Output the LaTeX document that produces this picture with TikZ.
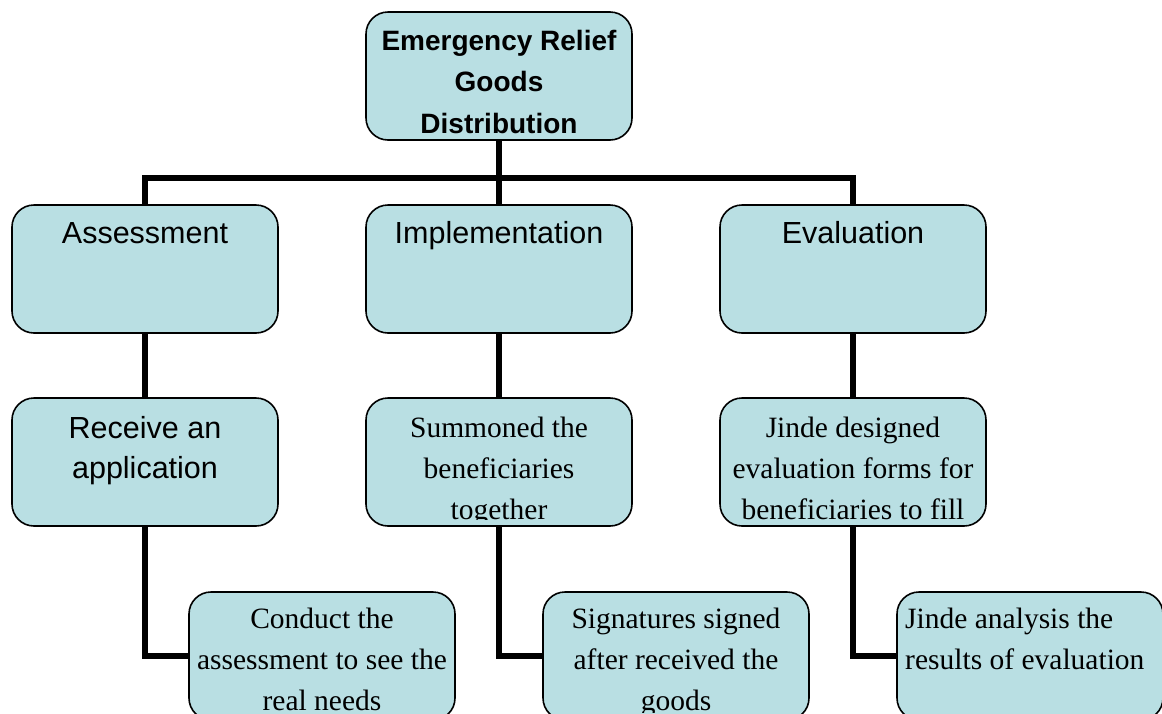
\documentclass[tikz,border=0pt]{standalone}
\usepackage{fontspec}
\setmainfont{Liberation Serif}
\setsansfont{Liberation Sans}
\definecolor{boxfill}{RGB}{185,223,227}
\newcommand\firstln{\rule{0pt}{40pt}}
\begin{document}
\begin{tikzpicture}[x=1pt,y=-1pt,
  box/.style={draw=black, line width=1.6pt, fill=boxfill, rounded corners=22pt,
    minimum width=266pt, minimum height=128pt, anchor=north west, inner sep=0pt, outer sep=0pt},
  conn/.style={line width=5.5pt, line join=miter},
  serift/.style={font=\fontsize{29.5}{41}\selectfont\rmfamily, align=center, inner sep=0pt, anchor=north},
  sanst/.style={font=\fontsize{30.5}{40}\selectfont\sffamily, align=center, inner sep=0pt, anchor=north},
  boldt/.style={font=\fontsize{28}{41.5}\selectfont\sffamily\bfseries, align=center, inner sep=0pt, anchor=north}
]
\useasboundingbox (0,0) rectangle (1162,713);
\clip (0,0) rectangle (1162,713);

% boxes
\node[box] (top) at (366,12) {};
\node[box] (a2) at (12,205) {};
\node[box] (i2) at (366,205) {};
\node[box] (e2) at (720,205) {};
\node[box] (a3) at (12,398) {};
\node[box] (i3) at (366,398) {};
\node[box] (e3) at (720,398) {};
\node[box] (a4) at (189,592) {};
\node[box] (i4) at (543,592) {};
\node[box] (e4) at (897,592) {};

% connectors
\coordinate (hb) at (0,178);
\draw[conn] (top.south) -- (top.south |- hb);
\draw[conn] (a2.north) -- (a2.north |- hb) -- (e2.north |- hb) -- (e2.north);
\draw[conn] (i2.north) -- (i2.north |- hb);
\draw[conn] (a2.south) -- (a3.north);
\draw[conn] (i2.south) -- (i3.north);
\draw[conn] (e2.south) -- (e3.north);
\draw[conn] (a3.south) |- (a4.west);
\draw[conn] (i3.south) |- (i4.west);
\draw[conn] (e3.south) |- (e4.west);

% texts
\node[boldt] (ttop) at (499,10) {\firstln Emergency Relief\\Goods\\Distribution};
\node[sanst] (ta2) at (145,203) {\firstln Assessment};
\node[sanst] (ti2) at (499,203) {\firstln Implementation};
\node[sanst] (te2) at (853,203) {\firstln Evaluation};
\node[sanst] (ta3) at (145,398) {\firstln Receive an\\application};
\begin{scope}
  \clip (370,402) rectangle (628,519);
  \node[serift] (ti3) at (499,397) {\firstln Summoned the\\beneficiaries\\together};
\end{scope}
\begin{scope}
  \clip (724,402) rectangle (982,521);
  \node[serift] (te3) at (853,397) {\firstln Jinde designed\\evaluation forms for\\beneficiaries to fill};
\end{scope}
\begin{scope}
  \clip (193,596) rectangle (451,712);
  \node[serift] (ta4) at (322,588) {\firstln Conduct the\\assessment to see the\\real needs};
\end{scope}
\begin{scope}
  \clip (547,596) rectangle (805,712);
  \node[serift] (ti4) at (676,588) {\firstln Signatures signed\\after received the\\goods};
\end{scope}
\node[serift, align=left, anchor=north west] (te4) at (905,588) {\firstln Jinde analysis the\\results of evaluation};
\end{tikzpicture}
\end{document}
